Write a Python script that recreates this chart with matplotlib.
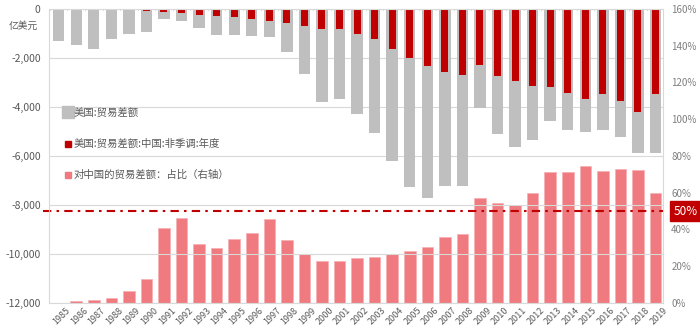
import numpy as np
import matplotlib
matplotlib.use("Agg")
import matplotlib.pyplot as plt
import matplotlib.transforms as mtransforms
from matplotlib.lines import Line2D
from matplotlib.ticker import FuncFormatter

plt.rcParams['font.family'] = ['Noto Sans CJK SC', 'DejaVu Sans']

years = [str(y) for y in range(1985, 2020)]

# 美国贸易差额（亿美元）
us_total = [-1318, -1469, -1633, -1238, -1034, -925, -400, -476, -789, -1075,
            -1061, -1116, -1157, -1755, -2653, -3784, -3686, -4286, -5049, -6218,
            -7253, -7727, -7211, -7224, -4041, -5114, -5633, -5361, -4558, -4939,
            -5007, -4925, -5224, -5891, -5865]

# 美国对中国贸易差额（亿美元）
us_china = [-6, -17, -28, -35, -62, -104, -127, -183, -228, -295,
            -338, -395, -497, -569, -686, -838, -831, -1031, -1240, -1620,
            -2022, -2340, -2586, -2680, -2268, -2731, -2951, -3151, -3186, -3449,
            -3672, -3470, -3752, -4192, -3456]

# 对中国的贸易差额占比（%）
china_share = [0.2, 1.1, 1.8, 2.7, 6.7, 12.9, 40.6, 46.4, 32.1, 29.8,
               34.8, 37.9, 45.5, 34.1, 26.7, 22.7, 22.9, 24.3, 24.9, 26.5,
               28.1, 30.5, 36.1, 37.5, 57.3, 54.3, 53.2, 59.9, 71.3, 71.1,
               74.7, 71.8, 72.9, 72.2, 59.7]

ref_level = 50

GRAY = '#BFBFBF'
RED = '#C00000'
PINK = '#EF7A7F'
TXT = '#595959'
GRID = '#D9D9D9'

x = np.arange(len(years))

fig = plt.figure(figsize=(7, 3.31), dpi=100)
ax = fig.add_axes([0.07, 0.0846, 0.877, 0.8884])
ax2 = ax.twinx()

# 占比柱画在底层（右轴），差额柱在上层
ax2.set_zorder(1)
ax.set_zorder(2)
ax.patch.set_visible(False)

ax2.bar(x, china_share, width=0.66, color=PINK, edgecolor='#F6AEB1', linewidth=0.5)
ax2.set_ylim(0, 160)
ax2.set_yticks(np.arange(0, 161, 20))
ax2.yaxis.set_major_formatter(FuncFormatter(lambda v, p: f'{v:.0f}%'))
ax2.tick_params(axis='y', length=0, labelsize=7, labelcolor='#7F7F7F', pad=6)

ax.bar(x, us_total, width=0.65, color=GRAY)
ax.bar(x, us_china, width=0.40, color=RED)
ax.set_ylim(-12000, 0)
ax.set_yticks(np.arange(-12000, 1, 2000))
ax.yaxis.set_major_formatter(FuncFormatter(lambda v, p: f'{v:,.0f}'))
ax.tick_params(axis='y', length=0, labelsize=7.5, labelcolor=TXT, pad=6)
ax.set_xlim(-0.55, 34.42)
ax.set_xticks(x)
ax.set_xticklabels(years, rotation=45, ha='right', rotation_mode='anchor',
                   fontsize=6.5, color=TXT)
ax.tick_params(axis='x', length=0, pad=2)
for lab in ax.get_xticklabels():
    lab.set_transform(lab.get_transform() + mtransforms.ScaledTranslation(5 / 72, 0, fig.dpi_scale_trans))

# 水平网格线
for v in np.arange(-12000, 0, 2000):
    ax.axhline(v, color=GRID, linewidth=0.8, zorder=0)

for a in (ax, ax2):
    for side in ('top', 'right', 'left', 'bottom'):
        a.spines[side].set_visible(False)
for side in ('left', 'bottom', 'top'):
    ax.spines[side].set_visible(True)
    ax.spines[side].set_color(GRID)
ax2.spines['right'].set_visible(True)
ax2.spines['right'].set_color(GRID)

# 顶部分类轴刻度
for b in np.arange(-0.5, len(years), 1.0):
    ax.plot([b, b], [0, -40], color=GRID, linewidth=0.8, zorder=1)

# 单位
ax.text(-0.066, 0.942, '亿美元', transform=ax.transAxes, fontsize=7,
        color=TXT, ha='left', va='center')

# 50%参考线
ax2.plot([-0.9, 34.42], [ref_level, ref_level], color=RED, linewidth=1.5,
         linestyle=(0, (4, 2.5, 1.2, 2.5)), clip_on=False, zorder=5)
trans = mtransforms.blended_transform_factory(ax2.transAxes, ax2.transData)
ax2.text(1.017, ref_level, f'{ref_level}%', transform=trans, fontsize=8.5,
         color='white', ha='left', va='center',
         bbox=dict(boxstyle='square,pad=0.3', facecolor=RED, edgecolor=RED))

handles = [
    Line2D([], [], linestyle='none', marker='s', markersize=8, color=GRAY),
    Line2D([], [], linestyle='none', marker='s', markersize=5, color=RED),
    Line2D([], [], linestyle='none', marker='s', markersize=5, color=PINK),
]
labels = ['美国:贸易差额', '美国:贸易差额:中国:非季调:年度', '对中国的贸易差额：占比（右轴）']
leg = ax.legend(handles, labels, loc='upper left', bbox_to_anchor=(0.015, 0.677),
                frameon=False, fontsize=7.5, labelspacing=2.0, handletextpad=0.1,
                handlelength=1.0, borderaxespad=0)
for t in leg.get_texts():
    t.set_color(TXT)

fig.savefig('out.png', dpi=100)
